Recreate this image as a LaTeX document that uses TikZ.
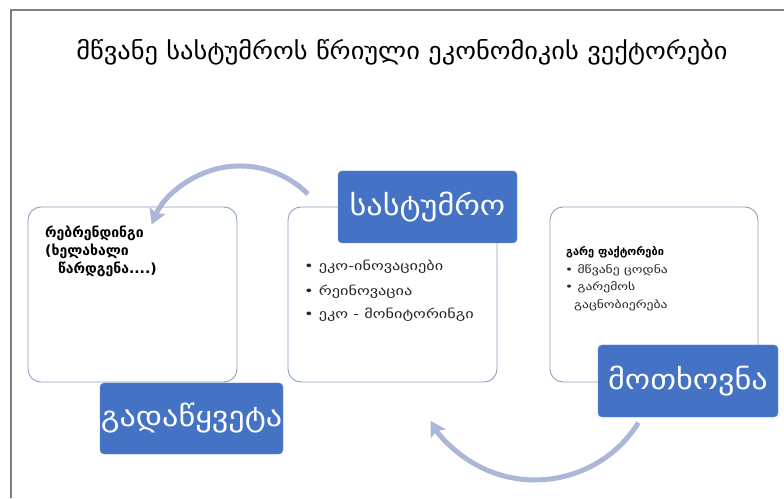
\documentclass[tikz,border=0pt]{standalone}
\usepackage{fontspec}
\setmainfont{DejaVu Sans}
\newfontfamily\smallfont[FakeStretch=1.3]{DejaVu Sans}
\newfontfamily\tagfont[FakeStretch=1.15]{DejaVu Sans}
\newfontfamily\titlefont[FakeStretch=1.1]{DejaVu Sans}
\usetikzlibrary{arrows.meta}
\definecolor{bluebox}{HTML}{4472C4}
\definecolor{boxline}{HTML}{8EA0BE}
\definecolor{arcc}{HTML}{ABB6D8}
\definecolor{frame}{HTML}{7F7F7F}
\definecolor{txt}{HTML}{262626}
\tikzset{
  card/.style={draw=boxline, line width=0.9pt, rounded corners=13pt, fill=white, minimum width=#1, minimum height=175pt, inner sep=0pt},
  tag/.style={fill=bluebox, draw=bluebox!80!white, rounded corners=4pt, text=white, minimum height=72pt, inner sep=0pt, font=\tagfont\fontsize{28}{32}\selectfont},
  cyc/.style={draw=arcc, line width=5pt, -{Stealth[length=15pt,width=17pt,inset=3pt]}},
  body/.style={anchor=west, text=txt, inner sep=0pt, font=\smallfont\fontsize{#1}{15}\selectfont},
  bodyb/.style={anchor=west, text=black, inner sep=0pt, font=\fontsize{#1}{15}\selectfont\bfseries}
}
\begin{document}
\begin{tikzpicture}[x=1pt,y=1pt]
\useasboundingbox (0,0) rectangle (784,498);
\fill[white] (0,0) rectangle (784,498);
\draw[frame, line width=1.5pt] (11,0) -- (11,488) -- (784,488);
\node (title) at (402,446) {\titlefont\fontsize{24}{28}\selectfont მწვანე სასტუმროს წრიული ეკონომიკის ვექტორები};
% cards
\node[card=209pt] (left) at (132.5,203.5) {};
\node[card=209pt] (mid) at (392.5,203.5) {};
\node[card=208pt] (right) at (654,203.5) {};
% arcs
\coordinate (a1) at (307.9,303.9);
\draw[cyc] (a1) arc[start angle=45, end angle=157, radius=96];
\coordinate (a2) at (638.5,75.4);
\draw[cyc] (a2) arc[start angle=-32, end angle=-149, radius=122];
% left texts
\node[bodyb=14] (l1) at (45,265) {რებრენდინგი};
\node[bodyb=14] (l2) at (45,247) {(ხელახალი};
\node[bodyb=14] (l3) at (58,229) {წარდგენა....)};
% middle texts
\node[body=12.5] (m1) at (304,231) {• ეკო-ინოვაციები};
\node[body=12.5] (m2) at (304,206) {• რეინოვაცია};
\node[body=12.5] (m3) at (304,183) {• ეკო - მონიტორინგი};
% right texts
\node[bodyb=11] (r0) at (566,246) {გარე ფაქტორები};
\node[body=10.5] (r1) at (565,228) {• მწვანე ცოდნა};
\node[body=10.5] (r2) at (565,211) {• გარემოს};
\node[body=10.5] (r3) at (574,193) {გაცნობიერება};
% tags
\node[tag, minimum width=179pt] (hotel) at (427.5,291) {სასტუმრო};
\node[tag, minimum width=180pt] (demand) at (688,117) {მოთხოვნა};
\node[tag, minimum width=183pt, minimum height=71pt] (decision) at (191.5,79.5) {გადაწყვეტა};
\end{tikzpicture}
\end{document}
